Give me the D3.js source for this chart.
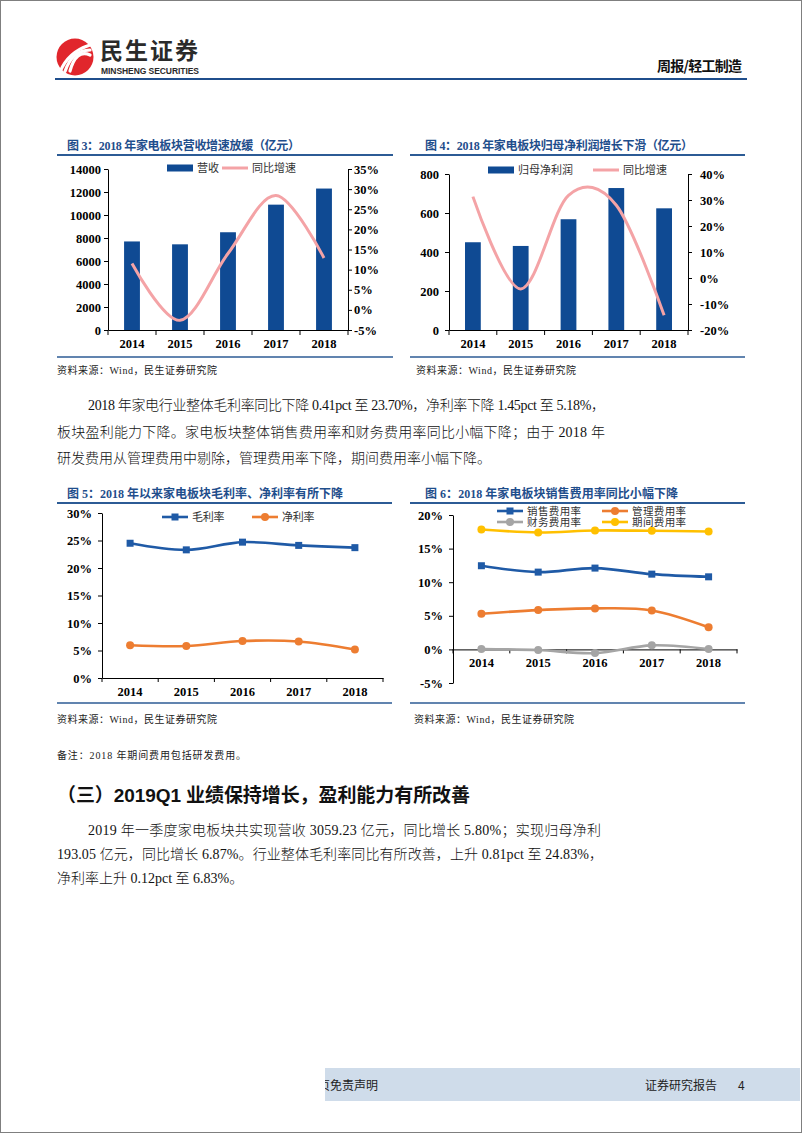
<!DOCTYPE html>
<html><head><meta charset="utf-8">
<script src="https://cdn.jsdelivr.net/npm/d3@7"></script>
<style>body{margin:0;background:#fff}svg{display:block}</style>
</head><body>
<svg id="page" width="802" height="1133"></svg>
<script>
// ---------------- DATA ----------------
const years = ["2014","2015","2016","2017","2018"];
const revenue = [7700, 7450, 8500, 10900, 12300];          // 营收 (亿元)
const revenueGrowth = [11.5, -2.6, 14.0, 28.4, 12.9];       // 同比增速 %
const netProfit = [450, 431, 568, 728, 624];                // 归母净利润 (亿元)
const profitGrowth = [31.3, -4.2, 31.8, 28.0, -14.3];       // 同比增速 %
const grossMargin = [24.5, 23.3, 24.7, 24.11, 23.70];       // 毛利率 %
const netMargin = [5.95, 5.82, 6.72, 6.63, 5.18];           // 净利率 %
const salesExp = [12.45, 11.5, 12.1, 11.2, 10.8];           // 销售费用率 %
const adminExp = [5.3, 5.85, 6.1, 5.8, 3.3];                // 管理费用率 %
const finExp = [0.05, -0.1, -0.55, 0.6, 0.05];              // 财务费用率 %
const periodExp = [17.85, 17.4, 17.7, 17.65, 17.55];        // 期间费用率 %

const revTicks = [0,2000,4000,6000,8000,10000,12000,14000];
const revGrowthTicks = [-5,0,5,10,15,20,25,30,35];
const profitTicks = [0,200,400,600,800];
const profitGrowthTicks = [-20,-10,0,10,20,30,40];
const marginTicks = [0,5,10,15,20,25,30];
const expTicks = [-5,0,5,10,15,20];

// ---------------- STYLE ----------------
const serif = "'Liberation Serif','Times New Roman','Noto Sans CJK SC',serif";
const sans = "'Liberation Sans','Noto Sans CJK SC',sans-serif";
const cjk = "'Noto Sans CJK SC',sans-serif";
const barColor = "#0f4a93";
const pink = "#f4a3a6";
const blueLine = "#1f5aa6";
const orange = "#ed7d31";
const gray = "#a5a5a5";
const yellow = "#ffc000";
const ruleBlue = "#2c5b95";
const titleBlue = "#1f4e8c";

const svg = d3.select("#page");

function text(g, x, y, s, o = {}) {
  const t = g.append("text").attr("x", x).attr("y", y).text(s)
    .attr("font-family", o.family || serif)
    .attr("font-size", o.size || 12)
    .attr("font-weight", o.weight || "normal")
    .attr("fill", o.fill || "#000");
  if (o.anchor) t.attr("text-anchor", o.anchor);
  if (o.len) t.attr("textLength", o.len).attr("lengthAdjust", "spacing");
  return t;
}

// page border
svg.append("rect").attr("x",0.5).attr("y",0.5).attr("width",801).attr("height",1132)
  .attr("fill","none").attr("stroke","#7f7f7f");

// ---------------- HEADER ----------------
const hd = svg.append("g");
hd.append("circle").attr("cx",75).attr("cy",57).attr("r",18.5).attr("fill","#e1262c");
[0,1,2].forEach(i=>{
  hd.append("path")
    .attr("d", `M${60+i*5},${72-i*0.5} Q${68+i*4},${52-i*1.5} ${90},${45+i*5}`)
    .attr("fill","none").attr("stroke","#fff").attr("stroke-width",3.2).attr("stroke-linecap","round");
});
text(hd, 100, 59, "民生证券", {family: cjk, size: 23, weight: "bold", fill: "#2a2a2a", len: 98});
text(hd, 101, 74, "MINSHENG SECURITIES", {family: sans, size: 8.5, weight: "bold", fill: "#2a2a2a", len: 98});
text(hd, 657, 71, "周报/轻工制造", {family: cjk, size: 14, weight: "bold", fill: "#111", len: 85});
hd.append("line").attr("x1",55).attr("x2",747).attr("y1",79).attr("y2",79)
  .attr("stroke","#1f4e8c").attr("stroke-width",2);

// ---------------- HELPERS ----------------
function styleAxis(g, size) {
  g.select(".domain").attr("stroke","#000");
  g.selectAll(".tick line").attr("stroke","#000");
  g.selectAll("text").attr("font-family", serif).attr("font-weight","bold")
    .attr("font-size", size || 12.5).attr("fill","#000");
}

function frame(o) {
  const g = svg.append("g");
  text(g, o.tx, o.ty, o.title, {size: 12, weight: "bold", fill: titleBlue, len: o.tlen});
  g.append("line").attr("x1",o.rx0).attr("x2",o.rx1).attr("y1",o.ry0).attr("y2",o.ry0)
    .attr("stroke",ruleBlue).attr("stroke-width",2);
  g.append("line").attr("x1",o.rx0).attr("x2",o.rx1).attr("y1",o.ry1).attr("y2",o.ry1)
    .attr("stroke",ruleBlue).attr("stroke-width",1.5);
  text(g, o.sx, o.sy, "资料来源：Wind，民生证券研究院", {size: 10, fill: "#222", len: 160});
  return g;
}

function xAxis(g, x, y, o) {
  const ax = g.append("g").attr("transform",`translate(0,${y})`)
    .call(d3.axisBottom(x).tickSize(0).tickSizeOuter(0).tickPadding(o.pad));
  styleAxis(ax);
  const bounds = x.domain().map(d => x(d)).concat([x.range()[1]]);
  g.selectAll(null).data(bounds).join("line")
    .attr("x1", d => d).attr("x2", d => d).attr("y1", y).attr("y2", y + o.tick)
    .attr("stroke","#000");
}

function barChart(o) {
  const g = frame(o);
  const x = d3.scaleBand().domain(years).range([o.x0, o.x1]).padding(0);
  const yL = d3.scaleLinear().domain(o.lDom).range([o.yBot, o.yTop]);
  const yR = d3.scaleLinear().domain(o.rDom).range([o.yBot, o.yTop]);
  const bw = x.bandwidth() * 0.33;
  g.selectAll(null).data(o.bars).join("rect")
    .attr("x", (d,i) => x(years[i]) + (x.bandwidth() - bw) / 2)
    .attr("width", bw)
    .attr("y", d => yL(d)).attr("height", d => yL(0) - yL(d))
    .attr("fill", barColor);
  const line = d3.line()
    .x((d,i) => x(years[i]) + x.bandwidth() / 2)
    .y(d => yR(d))
    .curve(d3.curveCardinal.tension(0));
  g.append("path").attr("d", line(o.growth)).attr("fill","none")
    .attr("stroke", pink).attr("stroke-width", 3);
  const la = g.append("g").attr("transform",`translate(${o.x0},0)`)
    .call(d3.axisLeft(yL).tickValues(o.lTicks).tickSize(4).tickSizeOuter(0).tickPadding(o.lPad)
      .tickFormat(d => String(d)));
  styleAxis(la);
  const ra = g.append("g").attr("transform",`translate(${o.x1},0)`)
    .call(d3.axisRight(yR).tickValues(o.rTicks).tickSize(4).tickSizeOuter(0).tickPadding(o.rPad)
      .tickFormat(d => d + "%"));
  styleAxis(ra);
  xAxis(g, x, o.yBot, {pad: 9, tick: 5});
  // legend
  g.append("rect").attr("x", o.lg[0]).attr("y", o.lgY - 3.5).attr("width", 26).attr("height", 7).attr("fill", barColor);
  text(g, o.lg[0] + 30, o.lgY + 4, o.barName, {size: 11, fill: "#333"});
  g.append("line").attr("x1", o.lg[1]).attr("x2", o.lg[1] + 26).attr("y1", o.lgY).attr("y2", o.lgY)
    .attr("stroke", pink).attr("stroke-width", 3);
  text(g, o.lg[1] + 30, o.lgY + 4, "同比增速", {size: 11, fill: "#333"});
}

function marker(g, type, cx, cy, color) {
  if (type === "square") {
    g.append("rect").attr("x", cx - 3.5).attr("y", cy - 3.5).attr("width", 7).attr("height", 7).attr("fill", color);
  } else {
    g.append("circle").attr("cx", cx).attr("cy", cy).attr("r", 4).attr("fill", color);
  }
}

function lineChart(o) {
  const g = frame(o);
  const x = d3.scaleBand().domain(years).range([o.x0, o.x1]).padding(0);
  const y = d3.scaleLinear().domain(o.dom).range([o.yBot, o.yTop]);
  const la = g.append("g").attr("transform",`translate(${o.x0},0)`)
    .call(d3.axisLeft(y).tickValues(o.ticks).tickSize(4).tickSizeOuter(0).tickPadding(o.lPad)
      .tickFormat(d => d + "%"));
  styleAxis(la);
  xAxis(g, x, y(0), {pad: 9, tick: 4});
  const line = d3.line()
    .x((d,i) => x(years[i]) + x.bandwidth() / 2)
    .y(d => y(d))
    .curve(d3.curveCardinal.tension(0));
  o.series.forEach(s => {
    g.append("path").attr("d", line(s.values)).attr("fill","none")
      .attr("stroke", s.color).attr("stroke-width", 2.6);
    s.values.forEach((v,i) => marker(g, s.marker, x(years[i]) + x.bandwidth()/2, y(v), s.color));
    // legend
    const [lx, ly] = s.lg;
    g.append("line").attr("x1", lx).attr("x2", lx + 26).attr("y1", ly).attr("y2", ly)
      .attr("stroke", s.color).attr("stroke-width", 2.6);
    marker(g, s.marker, lx + 13, ly, s.color);
    text(g, lx + 30, ly + 3.5, s.name, {size: o.lgSize || 11, fill: "#333", len: s.name.length * 10.8});
  });
}

// ---------------- CHART 3 ----------------
barChart({
  title: "图 3：2018 年家电板块营收增速放缓（亿元）", tx: 67, ty: 150, tlen: 233,
  rx0: 57, rx1: 393, ry0: 155, ry1: 357, sx: 57, sy: 374,
  x0: 108, x1: 348, yTop: 169, yBot: 330,
  lDom: [0, 14000], rDom: [-5, 35], lTicks: revTicks, rTicks: revGrowthTicks,
  lPad: 3, rPad: 2,
  bars: revenue, growth: revenueGrowth, barName: "营收",
  lg: [167, 222], lgY: 168
});

// ---------------- CHART 4 ----------------
barChart({
  title: "图 4：2018 年家电板块归母净利润增长下滑（亿元）", tx: 425, ty: 150, tlen: 268,
  rx0: 410, rx1: 745, ry0: 155, ry1: 357, sx: 416, sy: 374,
  x0: 449, x1: 688, yTop: 174, yBot: 330,
  lDom: [0, 800], rDom: [-20, 40], lTicks: profitTicks, rTicks: profitGrowthTicks,
  lPad: 6, rPad: 8,
  bars: netProfit, growth: profitGrowth, barName: "归母净利润",
  lg: [488, 593], lgY: 170
});

// ---------------- BODY TEXT 1 ----------------
const body = svg.append("g");
const bodyOpt = {family: "'Liberation Serif','Noto Sans CJK SC',serif", size: 14, fill: "#111", weight: 300};
text(body, 88, 410, "2018 年家电行业整体毛利率同比下降 0.41pct 至 23.70%，净利率下降 1.45pct 至 5.18%，", Object.assign({len: 517}, bodyOpt));
text(body, 57, 437, "板块盈利能力下降。家电板块整体销售费用率和财务费用率同比小幅下降；由于 2018 年", Object.assign({len: 548}, bodyOpt));
text(body, 57, 463, "研发费用从管理费用中剔除，管理费用率下降，期间费用率小幅下降。", bodyOpt);

// ---------------- CHART 5 ----------------
lineChart({
  title: "图 5：2018 年以来家电板块毛利率、净利率有所下降", tx: 67, ty: 498, tlen: 276,
  rx0: 57, rx1: 392, ry0: 503, ry1: 703, sx: 57, sy: 723,
  x0: 102, x1: 383, yTop: 513, yBot: 678, dom: [0, 30], ticks: marginTicks, lPad: 6,
  series: [
    {name: "毛利率", values: grossMargin, color: blueLine, marker: "square", lg: [162, 517]},
    {name: "净利率", values: netMargin, color: orange, marker: "circle", lg: [252, 517]}
  ]
});

// ---------------- CHART 6 ----------------
lineChart({
  title: "图 6：2018 年家电板块销售费用率同比小幅下降", tx: 425, ty: 498, tlen: 253,
  rx0: 410, rx1: 745, ry0: 503, ry1: 703, sx: 414, sy: 723,
  x0: 453, x1: 737, yTop: 515, yBot: 683, dom: [-5, 20], ticks: expTicks, lPad: 6,
  lgSize: 10.5,
  series: [
    {name: "期间费用率", values: periodExp, color: yellow, marker: "circle", lg: [602, 522]},
    {name: "销售费用率", values: salesExp, color: blueLine, marker: "square", lg: [497, 511]},
    {name: "管理费用率", values: adminExp, color: orange, marker: "circle", lg: [602, 511]},
    {name: "财务费用率", values: finExp, color: gray, marker: "circle", lg: [497, 522]}
  ]
});

// ---------------- NOTE / HEADING / BODY 2 ----------------
text(body, 57, 759, "备注：2018 年期间费用包括研发费用。", {size: 10, fill: "#222", len: 189});
text(body, 57, 802, "（三）2019Q1 业绩保持增长，盈利能力有所改善", {family: "'Liberation Sans','Noto Sans CJK SC',sans-serif", size: 19, weight: "bold", fill: "#111", len: 413});
text(body, 88, 835, "2019 年一季度家电板块共实现营收 3059.23 亿元，同比增长 5.80%；实现归母净利", Object.assign({len: 513}, bodyOpt));
text(body, 57, 859, "193.05 亿元，同比增长 6.87%。行业整体毛利率同比有所改善，上升 0.81pct 至 24.83%，", Object.assign({len: 546}, bodyOpt));
text(body, 57, 883, "净利率上升 0.12pct 至 6.83%。", bodyOpt);

// ---------------- FOOTER ----------------
const ft = svg.append("g");
ft.append("defs").append("clipPath").attr("id","fclip")
  .append("rect").attr("x",325).attr("y",1068).attr("width",475).attr("height",33);
ft.append("rect").attr("x",325).attr("y",1068).attr("width",475).attr("height",33).attr("fill","#cfdcea");
text(ft.append("g").attr("clip-path","url(#fclip)"), 318, 1090, "页免责声明", {family: cjk, size: 12, fill: "#222"});
text(ft, 645, 1090, "证券研究报告", {family: cjk, size: 12, fill: "#222"});
text(ft, 738, 1090, "4", {family: cjk, size: 12, fill: "#222"});
</script>
</body></html>
